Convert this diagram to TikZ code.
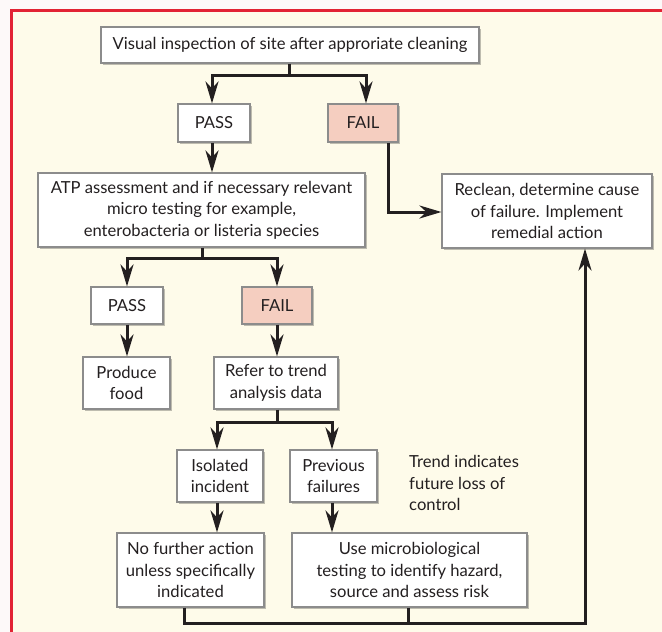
\documentclass[tikz,border=0pt]{standalone}
\usepackage{fontspec}
\setmainfont{Lato}
\usetikzlibrary{arrows.meta,shadows}
\definecolor{cream}{RGB}{254,251,234}
\definecolor{framered}{RGB}{226,35,52}
\definecolor{failpink}{RGB}{245,206,192}
\definecolor{ink}{RGB}{35,31,32}
\definecolor{edgegray}{RGB}{140,140,140}
\definecolor{outside}{RGB}{253,249,249}
\begin{document}
\begin{tikzpicture}[x=1pt,y=-1pt,
  box/.style={draw=edgegray, line width=1.1pt, fill=white, align=center, inner sep=0pt,
    text=ink, font=\fontsize{16.6}{21.5}\selectfont,
    drop shadow={shadow xshift=1.5pt, shadow yshift=-1.5pt, opacity=0.25, fill=black}},
  failbox/.style={box, fill=failpink},
  link/.style={draw=ink, line width=3pt},
  arr/.style={link, -{Stealth[length=22pt,width=13pt,inset=7pt]}},
  note/.style={text=ink, align=left, inner sep=0pt, font=\fontsize{16.6}{21.5}\selectfont}
]
\useasboundingbox (0,0) rectangle (662,632);
\fill[outside] (0,0) rectangle (662,632);
\fill[cream] (11.5,10.5) rectangle (680,650);
\draw[framered, line width=3pt] (11.5,10.5) rectangle (680,650);

% nodes
\node[box, minimum width=378pt, minimum height=36pt] (top) at (290,45) {Visual inspection of site after approriate cleaning};
\node[box, minimum width=72pt, minimum height=38pt] (pass1) at (214,123) {PASS};
\node[failbox, minimum width=70pt, minimum height=38pt] (fail1) at (363,123) {FAIL};
\node[box, minimum width=327pt, minimum height=74pt] (atp) at (201.5,210) {ATP assessment and if necessary relevant\\micro testing for example,\\enterobacteria or listeria species};
\node[box, minimum width=210pt, minimum height=74pt] (reclean) at (547,211) {Reclean, determine cause\\of failure. Implement\\remedial action};
\node[box, minimum width=72pt, minimum height=37pt] (pass2) at (127,305.5) {PASS};
\node[failbox, minimum width=70pt, minimum height=37pt] (fail2) at (277,305.5) {FAIL};
\node[box, minimum width=87pt, minimum height=52pt] (produce) at (126.5,383) {Produce\\food};
\node[box, minimum width=124pt, minimum height=52pt] (refer) at (276,383) {Refer to trend\\analysis data};
\node[box, minimum width=86pt, minimum height=52pt] (isolated) at (220,476) {Isolated\\incident};
\node[box, minimum width=87pt, minimum height=52pt] (previous) at (333.5,476) {Previous\\failures};
\node[box, minimum width=147pt, minimum height=74pt] (nofurther) at (190.5,570) {No further action\\unless specifically\\indicated};
\node[box, minimum width=235pt, minimum height=74pt] (usemicro) at (409.5,570) {Use microbiological\\testing to identify hazard,\\source and assess risk};
\node[note, anchor=west] (trend) at (409,483) {Trend indicates\\future loss of\\control};

% junction coordinates
\coordinate (j1) at (289,75);
\coordinate (j2) at (202,258);
\coordinate (j3) at (277,422);
\coordinate (f1) at (388,212);
\coordinate (b1) at (184,623);
\coordinate (b2) at (585,623);
\coordinate (b3) at (408,623);

% connectors
\draw[link] (top.south -| j1) -- (j1);
\draw[arr] (j1) -| ([xshift=-2pt]pass1.north);
\draw[arr] (j1) -| ([xshift=3pt]fail1.north);
\draw[arr] ([xshift=-2pt]pass1.south) -- ([xshift=-2pt]pass1.south |- atp.north);
\draw[arr] (fail1.south -| f1) -- (f1) -- (reclean.west |- f1);

\draw[link] (atp.south -| j2) -- (j2);
\draw[arr] (j2) -| (pass2.north);
\draw[arr] (j2) -| (fail2.north);
\draw[arr] (pass2.south) -- (pass2.south |- produce.north);
\draw[arr] (fail2.south) -- (fail2.south |- refer.north);

\draw[link] (refer.south -| j3) -- (j3);
\draw[arr] (j3) -| ([xshift=-3pt]isolated.north);
\draw[arr] (j3) -| ([xshift=-1.5pt]previous.north);
\draw[arr] ([xshift=-3pt]isolated.south) -- ([xshift=-3pt]isolated.south |- nofurther.north);
\draw[arr] ([xshift=-1.5pt]previous.south) -- ([xshift=-1.5pt]previous.south |- usemicro.north);

\draw[arr] (nofurther.south -| b1) -- (b1) -- (b2) -- (reclean.south -| b2);
\draw[link] (usemicro.south -| b3) -- (b3);
\end{tikzpicture}
\end{document}
